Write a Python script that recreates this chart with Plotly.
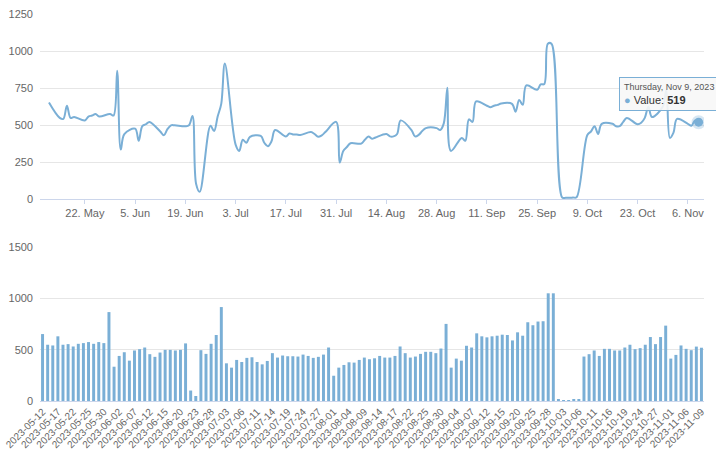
import pandas as pd
import plotly.graph_objects as go
from plotly.subplots import make_subplots

# ---- data ----
start_date = "2023-05-12"
end_date = "2023-11-09"
dates = pd.bdate_range(start_date, end_date)  # business days (130)
date_labels = [d.strftime("%Y-%m-%d") for d in dates]

values = [
    652, 548, 541, 630, 548, 554, 531, 557, 564, 574,
    557, 574, 564, 866, 334, 439, 475, 393, 492, 505,
    521, 456, 430, 472, 498, 498, 492, 498, 561, 102,
    49, 495, 459, 557, 643, 915, 367, 325, 400, 380,
    420, 426, 380, 357, 390, 466, 423, 443, 436, 436,
    433, 452, 439, 420, 430, 452, 521, 246, 325, 351,
    377, 374, 400, 423, 407, 416, 439, 423, 423, 439,
    531, 466, 423, 433, 459, 479, 479, 466, 511, 751,
    325, 413, 393, 538, 521, 659, 630, 620, 630, 636,
    646, 643, 590, 669, 636, 767, 738, 774, 777, 1049,
    1049, 10, 8, 8, 10, 12, 433, 456, 492, 439,
    508, 508, 492, 492, 521, 548, 505, 515, 548, 623,
    554, 623, 734, 413, 449, 541, 508, 495, 530, 519,
]
series_name = "Value"
bottom_tick_labels = date_labels[::3]

# ---- style ----
COLOR = "#7aafd6"
GRID = "#e6e6e6"
TXT = "#666666"
FONT = "Liberation Sans, Arial, sans-serif"

W, H = 716, 468
mt, mb, ml, mr = 14, 67, 40, 12
ph = H - mt - mb
top_dom = [(ph - (199 - mt)) / ph, 1.0]
bot_dom = [0.0, (ph - (247 - mt)) / ph]

fig = make_subplots(rows=2, cols=1, shared_xaxes=False)

fig.add_trace(go.Scatter(
    x=dates, y=values, mode="lines", name=series_name,
    line=dict(color=COLOR, width=2, shape="spline", smoothing=1.0),
    hoverinfo="skip", showlegend=False), row=1, col=1)

# hovered point with halo
fig.add_trace(go.Scatter(
    x=[dates[-1]], y=[values[-1]], mode="markers",
    marker=dict(size=9, color=COLOR,
                line=dict(color="rgba(122,175,214,0.3)", width=5)),
    hoverinfo="skip", showlegend=False), row=1, col=1)

fig.add_trace(go.Bar(
    x=date_labels, y=values, name=series_name,
    marker=dict(color=COLOR, line=dict(width=0)),
    hoverinfo="skip", showlegend=False), row=2, col=1)

tip_date = dates[-1].strftime("%A, %b %-d, %Y")
tip_text = (f"<span style='font-size:9px;color:#555'>{tip_date}</span><br>"
            f"<span style='color:{COLOR}'>●</span> {series_name}: <b>{values[-1]}</b>")
fig.add_annotation(
    x=dates[-1], y=values[-1], xref="x", yref="y",
    text=tip_text, showarrow=False, align="left",
    xanchor="center", yanchor="bottom", xshift=-30, yshift=11,
    font=dict(family=FONT, size=11, color="#333333"),
    bgcolor="rgba(247,247,247,0.9)", bordercolor=COLOR,
    borderwidth=1, borderpad=4)

fig.update_layout(
    width=W, height=H,
    margin=dict(l=ml, r=mr, t=mt, b=mb, autoexpand=False),
    paper_bgcolor="white", plot_bgcolor="white",
    font=dict(family=FONT, size=11, color=TXT),
    bargap=0.42, hovermode=False,
)

fig.update_xaxes(
    type="date", domain=[0, 1], automargin=False,
    range=["2023-05-09 12:00", "2023-11-10 12:00"],
    tick0="2023-05-22", dtick=14 * 86400000, tickformat="%-d. %b",
    showgrid=False, showline=True, linecolor="#ccd6eb", linewidth=1,
    ticks="outside", ticklen=4, tickcolor="#ccd6eb",
    tickfont=dict(size=11, color=TXT), zeroline=False,
    row=1, col=1)
fig.update_yaxes(
    domain=top_dom, range=[0, 1250], dtick=250, automargin=False,
    showgrid=True, gridcolor=GRID, zeroline=False, showline=False,
    ticks="", ticklabelstandoff=6, tickfont=dict(size=11, color=TXT),
    row=1, col=1)

fig.update_xaxes(
    type="category", domain=[0, 1], range=[-0.5, len(values) - 0.5],
    automargin=False,
    tickmode="array", tickvals=bottom_tick_labels, ticktext=bottom_tick_labels,
    tickangle=-45, showgrid=False, showline=True, linecolor="#ccd6eb",
    ticks="", tickfont=dict(size=10, color=TXT), zeroline=False,
    row=2, col=1)
fig.update_yaxes(
    domain=bot_dom, range=[0, 1500], dtick=500, automargin=False,
    showgrid=True, gridcolor=GRID, zeroline=False, showline=False,
    ticks="", ticklabelstandoff=6, tickfont=dict(size=11, color=TXT),
    row=2, col=1)

fig.write_html("out.html")
